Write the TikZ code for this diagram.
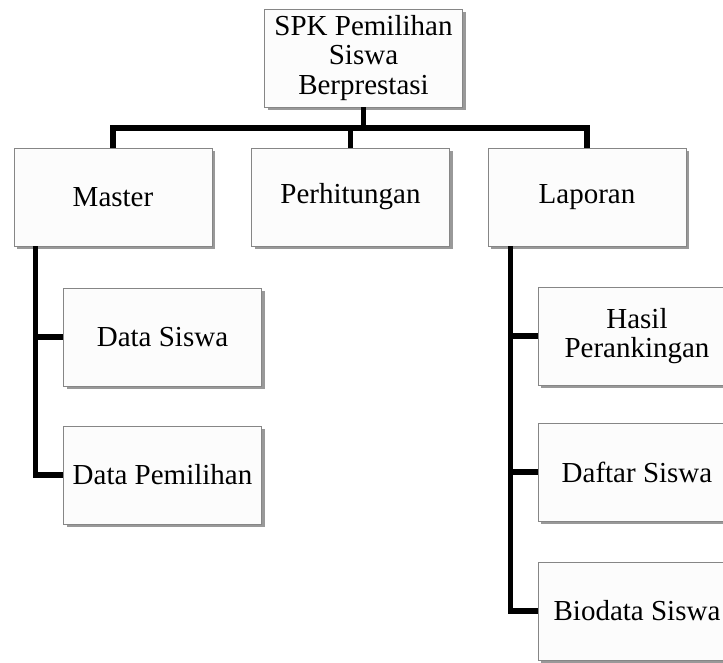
\documentclass[tikz,border=0pt]{standalone}
\usepackage{fontspec}
\setmainfont{Liberation Serif}
\usetikzlibrary{shadows}
\tikzset{
  menu/.style={draw=gray!95, line width=0.9pt, fill=white!99!black,
    minimum width=198pt, minimum height=98pt, inner sep=0pt, align=center,
    font=\fontsize{29}{29.5}\selectfont,
    drop shadow={shadow xshift=3pt, shadow yshift=-3pt, fill=black!40, opacity=1}},
  link/.style={line width=5.5pt, black, line join=miter}
}

\begin{document}
\begin{tikzpicture}[x=1pt,y=-1pt]
   \useasboundingbox (0,0) rectangle (723,662);
   % \draw[step=50,gray,very thin] (0,0) grid (723,662);
    \node[menu] (top) at (363.5,58) {SPK Pemilihan\\Siswa\\Berprestasi};
    \node[menu] (master) at (113,197) {Master};
    \node[menu] (perhitungan) at (350.5,197) {Perhitungan};
    \node[menu] (laporan) at (587,197) {Laporan};
    \node[menu] (datasiswa) at (162.5,337) {Data Siswa};
    \node[menu] (datapemilihan) at (162.5,475) {Data Pemilihan};
    \node[menu] (hasil) at (637,336) {Hasil\\Perankingan};
    \node[menu] (daftar) at (637,472) {Daftar Siswa};
    \node[menu] (biodata) at (637,611) {Biodata Siswa};

    \coordinate (bar) at (0,128);
    \coordinate (mt) at ([xshift=22pt]master.south west);
    \coordinate (lt) at ([xshift=23pt]laporan.south west);

    \draw[link] (top.south) -- (top.south |- bar);
    \draw[link] (master.north) -- (master.north |- bar) -- (laporan.north |- bar) -- (laporan.north);
    \draw[link] (perhitungan.north) -- (perhitungan.north |- bar);

    \draw[link] (mt) |- (datapemilihan.west);
    \draw[link] (mt |- datasiswa.west) -- (datasiswa.west);

    \draw[link] (lt) |- (biodata.west);
    \draw[link] (lt |- hasil.west) -- (hasil.west);
    \draw[link] (lt |- daftar.west) -- (daftar.west);
\end{tikzpicture}
\end{document}
